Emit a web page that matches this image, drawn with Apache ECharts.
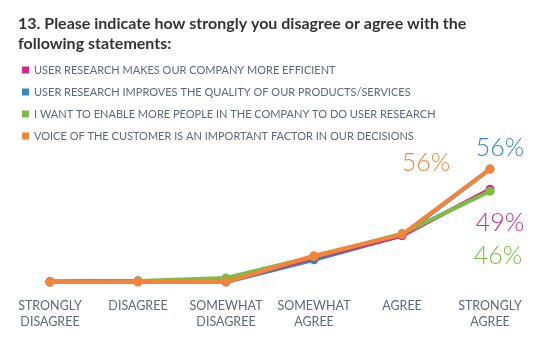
<!DOCTYPE html>
<html>
<head>
<meta charset="utf-8">
<script src="https://cdn.jsdelivr.net/npm/echarts@6/dist/echarts.min.js"></script>
<style>html,body{margin:0;padding:0;background:#fff}#c{width:550px;height:339px}</style>
</head>
<body>
<div id="c"></div>
<script>
var titleText = '13. Please indicate how strongly you disagree or agree with the\nfollowing statements:';
var categories = ['STRONGLY\nDISAGREE', 'DISAGREE', 'SOMEWHAT\nDISAGREE', 'SOMEWHAT\nAGREE', 'AGREE', 'STRONGLY\nAGREE'];
var seriesNames = [
  'USER RESEARCH MAKES OUR COMPANY MORE EFFICIENT',
  'USER RESEARCH IMPROVES THE QUALITY OF OUR PRODUCTS/SERVICES',
  'I WANT TO ENABLE MORE PEOPLE IN THE COMPANY TO DO USER RESEARCH',
  'VOICE OF THE CUSTOMER IS AN IMPORTANT FACTOR IN OUR DECISIONS'
];
var efficient = [0.3, 0.5, 0.5, 12, 23, 46];
var quality = [0, 0.5, 0, 11, 23, 56];
var enable = [0, 0.5, 2, 12.5, 24, 45];
var voice = [0, 0, 0, 13, 23.5, 56];
var endLabels = ['49%', '56%', '46%', '56%'];

var colors = ['#d52a80', '#3488c8', '#7cbd45', '#f5843a'];
var labelOffsets = [[10, 34], [10, -21], [8, 65], [-64, -6]];
var allValues = [efficient, quality, enable, voice];

var chart = echarts.init(document.getElementById('c'));
var series = allValues.map(function (vals, s) {
  return {
    name: seriesNames[s],
    type: 'line',
    z: s === 1 ? 1 : 2 + s,
    data: vals.map(function (v, i) {
      if (i === vals.length - 1) {
        return {
          value: v,
          label: {
            show: true,
            position: 'inside',
            offset: labelOffsets[s],
            formatter: endLabels[s],
            color: colors[s],
            fontSize: 25,
            fontFamily: 'Lato',
            fontWeight: 300
          }
        };
      }
      return v;
    }),
    symbol: 'circle',
    symbolSize: 9,
    lineStyle: { width: 4, color: colors[s] },
    itemStyle: { color: colors[s] },
    emphasis: { disabled: true },
    animation: false
  };
});

chart.setOption({
  animation: false,
  color: colors,
  title: {
    text: titleText,
    left: 13,
    top: 9,
    textStyle: { fontSize: 16, fontWeight: 'bold', color: '#333', fontFamily: 'Lato', lineHeight: 20 }
  },
  legend: {
    orient: 'vertical',
    left: 17,
    top: 59,
    icon: 'rect',
    itemWidth: 7,
    itemHeight: 7,
    itemGap: 10,
    data: seriesNames,
    textStyle: { fontSize: 11, color: '#5f6878', fontFamily: 'Lato', lineHeight: 12 },
    selectedMode: false
  },
  grid: { left: 50, right: 60, top: 161, bottom: 57 },
  xAxis: {
    type: 'category',
    boundaryGap: false,
    data: categories,
    axisLine: { show: false },
    axisTick: { show: false },
    axisLabel: { color: '#5f6878', fontSize: 12.5, fontFamily: 'Lato', lineHeight: 16, margin: 16, interval: 0 }
  },
  yAxis: {
    type: 'value',
    min: 0,
    max: 60,
    show: false,
    splitLine: { show: false }
  },
  series: series
});
</script>
</body>
</html>
